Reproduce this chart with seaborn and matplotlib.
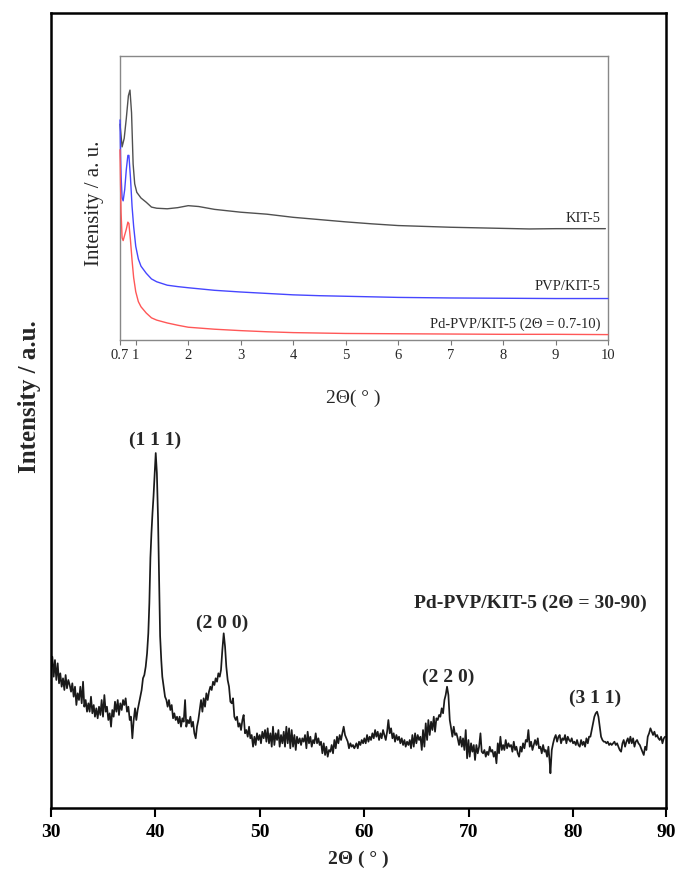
import matplotlib
matplotlib.use("Agg")
import matplotlib.pyplot as plt
import seaborn as sns
import pandas as pd

# ---------------- main XRD pattern (2Θ = 30-90) ----------------
main_x = [
    30.00, 30.13, 30.26, 30.38, 30.51, 30.64, 30.77, 30.89, 31.02, 31.15,
    31.28, 31.40, 31.53, 31.66, 31.79, 31.92, 32.04, 32.17, 32.30, 32.43,
    32.55, 32.68, 32.81, 32.94, 33.07, 33.19, 33.32, 33.45, 33.58, 33.70,
    33.83, 33.96, 34.09, 34.21, 34.34, 34.47, 34.60, 34.73, 34.85, 34.98,
    35.11, 35.24, 35.36, 35.49, 35.62, 35.75, 35.87, 36.00, 36.13, 36.26,
    36.39, 36.51, 36.64, 36.77, 36.90, 37.02, 37.15, 37.28, 37.41, 37.54,
    37.66, 37.79, 37.92, 38.05, 38.17, 38.30, 38.43, 38.56, 38.68, 38.81,
    38.94, 39.07, 39.20, 39.32,
    39.42, 39.52, 39.62, 39.72, 39.82, 39.93, 40.03, 40.14, 40.25, 40.35,
    40.45, 40.56,
    40.66, 40.79, 40.92, 41.05, 41.17, 41.30, 41.43, 41.56, 41.69, 41.81,
    41.94, 42.07, 42.20, 42.32, 42.45, 42.58, 42.71, 42.84, 42.96, 43.09,
    43.22, 43.35, 43.47, 43.60, 43.73, 43.86, 43.98, 44.11, 44.24, 44.37,
    44.50, 44.62, 44.75, 44.88, 45.01, 45.13, 45.26, 45.39, 45.52, 45.65,
    45.77, 45.90, 46.03, 46.16, 46.28, 46.41, 46.54, 46.67, 46.79, 46.92,
    47.05, 47.18, 47.31, 47.43, 47.56, 47.69, 47.82, 47.94, 48.07, 48.20,
    48.33, 48.45, 48.58, 48.71, 48.84, 48.97, 49.09, 49.22, 49.35, 49.48,
    49.60, 49.73, 49.86, 49.99, 50.11, 50.24, 50.37, 50.50, 50.63, 50.75,
    50.88, 51.01, 51.14, 51.26, 51.39, 51.52, 51.65, 51.78, 51.90, 52.03,
    52.16, 52.29, 52.41, 52.54, 52.67, 52.80, 52.92, 53.05, 53.18, 53.31,
    53.44, 53.56, 53.69, 53.82, 53.95, 54.07, 54.20, 54.33, 54.46, 54.58,
    54.71, 54.84, 54.97, 55.10, 55.22, 55.35, 55.48, 55.61, 55.73, 55.86,
    55.99, 56.12, 56.25, 56.37, 56.50, 56.63, 56.76, 56.88, 57.01, 57.14,
    57.27, 57.39, 57.52, 57.65, 57.78, 57.90, 58.03, 58.16, 58.29, 58.42,
    58.54, 58.67, 58.80, 58.92, 59.05,
    59.12, 59.25, 59.38, 59.50, 59.63, 59.76, 59.89, 60.01, 60.14, 60.27,
    60.40, 60.52, 60.65, 60.78, 60.91, 61.04, 61.16, 61.29, 61.42, 61.55,
    61.67, 61.80, 61.93, 62.06, 62.19, 62.31, 62.44, 62.57, 62.70, 62.82,
    62.95, 63.08, 63.21, 63.33, 63.46, 63.59, 63.72, 63.85, 63.97, 64.10,
    64.23, 64.36, 64.48, 64.61, 64.74, 64.87, 64.99, 65.12, 65.25, 65.38,
    65.51, 65.63, 65.76, 65.89, 66.02, 66.14, 66.27, 66.40, 66.53, 66.66,
    66.78, 66.91, 67.04, 67.17, 67.29, 67.42, 67.55, 67.68, 67.80, 67.93,
    68.06, 68.19, 68.32, 68.44, 68.57, 68.70, 68.83, 68.95, 69.08, 69.21,
    69.34, 69.46, 69.59, 69.72, 69.85, 69.98, 70.10, 70.23, 70.36, 70.49,
    70.61, 70.74, 70.87, 71.00, 71.13, 71.25, 71.38, 71.51, 71.64, 71.76,
    71.89, 72.02, 72.15, 72.27, 72.40, 72.53, 72.66, 72.79, 72.91, 73.04,
    73.17, 73.30, 73.42, 73.55, 73.68, 73.81, 73.93, 74.06, 74.19, 74.32,
    74.45, 74.57, 74.70, 74.83, 74.96, 75.08, 75.21, 75.34, 75.47, 75.60,
    75.72, 75.85, 75.98, 76.11, 76.23, 76.36, 76.49, 76.62, 76.74, 76.87,
    77.00, 77.13, 77.26, 77.38, 77.51, 77.64, 77.77, 77.83, 77.96, 78.09,
    78.21, 78.34, 78.47, 78.60, 78.72, 78.85, 78.98, 79.11, 79.23, 79.36,
    79.49, 79.62, 79.75, 79.87, 80.00, 80.13, 80.26, 80.38, 80.51, 80.64,
    80.77, 80.90, 81.02, 81.15, 81.28, 81.41, 81.53, 81.66, 81.79, 81.92,
    82.04, 82.17, 82.30, 82.43, 82.56, 82.68, 82.81, 82.94, 83.07, 83.19,
    83.32, 83.45, 83.58, 83.70, 83.83, 83.96, 84.09, 84.22, 84.34, 84.47,
    84.60, 84.73, 84.85, 84.98, 85.11, 85.24, 85.36, 85.49, 85.62, 85.75,
    85.88, 86.00, 86.13, 86.26, 86.39, 86.51, 86.64, 86.77, 86.90, 87.02,
    87.15, 87.28, 87.41, 87.54, 87.66, 87.79, 87.92, 88.05, 88.17, 88.30,
    88.43, 88.56, 88.69, 88.81,
]
main_y = [
    139.7, 151.3, 131.3, 148, 128, 144.7, 124.7, 134.7, 121.3, 129.7,
    118, 133, 119.7, 128, 123, 116.3, 124.7, 111.3, 121.3, 103,
    114.7, 108, 121.3, 104.7, 126.3, 101.3, 108, 96.3, 104.7, 96.3,
    111.3, 94.7, 103, 91.3, 99.7, 89.7, 101.3, 93, 108, 91.3,
    113, 96.3, 101.3, 88, 94.7, 81.3, 98, 91.3, 106.3, 96.3,
    108, 93, 104.7, 98, 108, 103, 109.7, 96.3, 101.3, 88,
    91.3, 69.7, 88, 99.7, 88, 98, 104.7, 111.3, 118, 129.7,
    133, 141.3, 154.7, 174.7,
    205, 250, 275, 295, 312, 335, 355, 335, 290, 230,
    172, 148,
    131.3, 121.3, 111.3, 108, 101.3, 108, 98, 103, 89.7, 94.7,
    88, 91.3, 84.7, 91.3, 81.3, 89.7, 86.3, 108, 81.3, 88,
    84.7, 91.3, 81.3, 86.3, 74.7, 69.7, 81.3, 88, 98, 108,
    96.3, 109.7, 101.3, 114.7, 108, 116.3, 121.3, 118, 126.3, 123,
    129.7, 126.3, 134.7, 131.3, 138, 158, 174.7, 161.3, 141.3, 128,
    121.3, 106.3, 104.7, 109.7, 91.3, 88, 91.3, 81.3, 84.7, 78,
    88, 93, 74.7, 78, 71.3, 81.3, 69.7, 73, 61.3, 71.3,
    63, 74.7, 68, 73, 64.7, 76.3, 69.7, 78, 66.3, 79.7,
    64.7, 74.7, 61.3, 81.3, 63, 74.7, 68, 78, 61.3, 73,
    64.7, 76.3, 61.3, 81.3, 64.7, 79.7, 59.7, 78, 61.3, 73,
    58, 71.3, 64.7, 69.7, 63, 69.7, 66.3, 73, 59.7, 76.3,
    64.7, 71.3, 61.3, 68, 64.7, 74.7, 64.7, 69.7, 63, 66.3,
    54.7, 64.7, 53, 61.3, 51.3, 58, 56.3, 63, 54.7, 68,
    59.7, 71.3, 64.7, 73, 68, 74.7, 81.3, 73, 69.7, 66.3,
    59.7, 64.7, 61.3, 63, 59.7,
    61.3, 64.7, 59.7, 66.3, 63, 68, 64.7, 69.7, 64.7, 73,
    66.3, 71.3, 68, 74.7, 69.7, 78, 71.3, 76.3, 68, 74.7,
    69.7, 78, 73, 68, 76.3, 88, 74.7, 79.7, 69.7, 74.7,
    66.3, 73, 68, 71.3, 64.7, 69.7, 63, 68, 61.3, 66.3,
    63, 68, 59.7, 73, 61.3, 74.7, 64.7, 73, 68, 71.3,
    58, 78, 61.3, 84.7, 68, 88, 73, 86.3, 78, 91.3,
    76.3, 89.7, 88, 93, 91.3, 99.7, 94.7, 108, 113, 121.3,
    113, 88, 79.7, 71.3, 81.3, 73, 74.7, 69.7, 63, 71.3,
    61.3, 69.7, 58, 78, 49.7, 68, 51.3, 64.7, 56.3, 63,
    48, 63, 54.7, 61.3, 74.7, 56.3, 54.7, 58, 51.3, 56.3,
    53, 61.3, 56.3, 58, 51.3, 56.3, 44.7, 64.7, 54.7, 71.3,
    58, 63, 58, 68, 59.7, 64.7, 61.3, 63, 56.3, 66.3,
    58, 61.3, 54.7, 51.3, 61.3, 56.3, 64.7, 59.7, 68, 66.3,
    78, 61.3, 66.3, 58, 63, 68, 63, 69.7, 59.7, 61.3,
    54.7, 63, 56.3, 58, 51.3, 61.3, 44.7, 34.7, 58, 64.7,
    69.7, 73, 66.3, 71.3, 73, 64.7, 69.7, 68, 73, 64.7,
    71.3, 68, 66.3, 69.7, 64.7, 66.3, 63, 68, 63, 61.3,
    68, 63, 66.3, 61.3, 69.7, 64.7, 71.3, 71.3, 78, 84.7,
    91.3, 94.7, 96.3, 91.3, 81.3, 71.3, 68, 66.3, 66.3, 64.7,
    66.3, 63, 64.7, 63, 64.7, 66.3, 63, 64.7, 61.3, 58,
    56.3, 64.7, 68, 61.3, 66.3, 69.7, 64.7, 71.3, 64.7, 69.7,
    61.3, 66.3, 68, 64.7, 63, 59.7, 56.3, 53, 61.3, 58,
    71.3, 74.7, 79.7, 76.3, 73, 76.3, 71.3, 73, 69.7, 68,
    71.3, 64.7, 69.7, 71.3,
]
main_xticks = [30, 40, 50, 60, 70, 80, 88.9]
main_xticklabels = ["30", "40", "50", "60", "70", "80", "90"]

peak_labels = ["(1 1 1)", "(2 0 0)", "(2 2 0)", "(3 1 1)"]
peak_label_x = [39.96, 46.35, 68.0, 82.1]
peak_label_y = [368, 185, 131, 110]
sample_label = "Pd-PVP/KIT-5 (2\u0398 = 30-90)"

# ---------------- inset: low-angle patterns (2Θ = 0.7-10) ----------------
kit_x = [0.70, 0.74, 0.78, 0.82, 0.86, 0.89, 0.92, 0.95, 0.98, 1.02,
         1.10, 1.20, 1.30, 1.40, 1.60, 1.80, 2.00, 2.20, 2.50, 3.00,
         3.50, 4.00, 4.50, 5.00, 5.50, 6.00, 6.50, 7.00, 7.50, 8.00,
         8.50, 9.00, 9.50, 9.95]
kit_y = [76, 68, 71, 78, 86, 88, 80, 62, 55, 52,
         50, 48.5, 46.8, 46.4, 46.2, 46.6, 47.3, 47.0, 46.0, 45.0,
         44.3, 43.2, 42.4, 41.6, 40.9, 40.3, 40.0, 39.7, 39.5, 39.3,
         39.1, 39.2, 39.2, 39.2]
pvp_x = [0.70, 0.71, 0.72, 0.74, 0.76, 0.79, 0.82, 0.85, 0.87, 0.90,
         0.93, 0.96, 1.00, 1.05, 1.10, 1.20, 1.30, 1.40, 1.60, 1.80,
         2.00, 2.50, 3.00, 3.50, 4.00, 4.50, 5.00, 6.00, 7.00, 8.00,
         9.00, 10.00]
pvp_y = [77.5, 65, 58, 50, 49, 53, 60, 65, 65, 57,
         47, 40, 33, 28.5, 26, 23.5, 21.5, 20.5, 19.3, 18.8,
         18.4, 17.5, 16.9, 16.4, 15.9, 15.6, 15.4, 15.0, 14.8, 14.7,
         14.6, 14.6]
pd_x = [0.70, 0.71, 0.72, 0.74, 0.76, 0.79, 0.82, 0.85, 0.87, 0.90,
        0.93, 0.96, 1.00, 1.05, 1.10, 1.20, 1.30, 1.40, 1.60, 1.80,
        2.00, 2.50, 3.00, 3.50, 4.00, 5.00, 6.00, 7.00, 8.00, 9.00,
        10.00]
pd_y = [67, 55, 45, 36, 35, 37, 39, 41.5, 41, 35,
        28, 22, 17, 13.5, 11.7, 9.5, 7.8, 7.0, 6.0, 5.2,
        4.5, 3.8, 3.3, 2.9, 2.6, 2.3, 2.2, 2.1, 2.0, 2.0,
        1.9]
inset_names = ["KIT-5", "PVP/KIT-5", "Pd-PVP/KIT-5 (2\u0398 = 0.7-10)"]
inset_colors = ["#505050", "#4646ff", "#ff5757"]
inset_label_y = [42.8, 18.8, 5.6]
inset_xticks = [0.7, 1, 2, 3, 4, 5, 6, 7, 8, 9, 10]
inset_xticklabels = ["0.7", "1", "2", "3", "4", "5", "6", "7", "8", "9", "10"]

# ---------------- drawing ----------------
sns.set_theme(style="ticks")
plt.rcParams["font.family"] = ["Liberation Serif", "DejaVu Serif"]

fig = plt.figure(figsize=(6.77, 8.72), dpi=100)
W, H = 677, 872
ax = fig.add_axes([51 / W, (H - 808) / H, (666 - 51) / W, (808 - 13) / H])

sns.lineplot(x=main_x, y=main_y, ax=ax, color="#1a1a1a", linewidth=1.25,
             estimator=None, sort=False)
ax.set_xlim(30, 88.9)
ax.set_ylim(0, 795)
ax.set_xticks(main_xticks)
ax.set_xticklabels(main_xticklabels, fontsize=14, fontweight="bold")
ax.set_yticks([])
ax.tick_params(axis="x", direction="out", length=6.5, width=1.5, pad=5,
               colors="black")
for s in ax.spines.values():
    s.set_visible(True)
    s.set_linewidth(1.8)
    s.set_color("black")
ax.set_xlabel("2\u0398 ( \u00b0 )", fontsize=14, fontweight="bold")
ax.xaxis.set_label_coords(0.50, -0.054)
ax.set_ylabel("Intensity / a.u.", fontsize=18, fontweight="bold")
ax.yaxis.set_label_coords(-0.016, 0.517)

for lab, lx, ly in zip(peak_labels, peak_label_x, peak_label_y):
    ax.text(lx, ly, lab, ha="center", va="center", fontsize=14,
            fontweight="bold")
ax.text(75.9, 205, sample_label, ha="center", va="center", fontsize=14,
        fontweight="bold")

# inset
ins = fig.add_axes([120 / W, (H - 340) / H, (608 - 120) / W, (340 - 56) / H])
inset_df = pd.concat([
    pd.DataFrame({"x": kit_x, "y": kit_y, "sample": inset_names[0]}),
    pd.DataFrame({"x": pvp_x, "y": pvp_y, "sample": inset_names[1]}),
    pd.DataFrame({"x": pd_x, "y": pd_y, "sample": inset_names[2]}),
])
sns.lineplot(data=inset_df, x="x", y="y", hue="sample", hue_order=inset_names,
             palette=inset_colors, ax=ins, linewidth=1.0, estimator=None,
             sort=False, legend=False)
for ln in ins.lines:
    ln.set_zorder(3)
    ln.set_clip_on(False)
ins.set_xlim(0.7, 10)
ins.set_ylim(0, 100)
ins.set_xticks(inset_xticks)
ins.set_xticklabels(inset_xticklabels, fontsize=10.5)
ins.set_yticks([])
ins.tick_params(axis="x", direction="out", length=3.5, width=0.8,
                color="#777777", pad=3)
for s in ins.spines.values():
    s.set_visible(True)
    s.set_linewidth(1.0)
    s.set_color("#888888")
    s.set_zorder(1)
ins.set_xlabel("2\u0398( \u00b0 )", fontsize=14)
ins.xaxis.set_label_coords(0.477, -0.176)
ins.set_ylabel("Intensity / a. u.", fontsize=15)
ins.yaxis.set_label_coords(-0.033, 0.48)
for name, ly in zip(inset_names, inset_label_y):
    ins.text(9.85, ly, name, ha="right", va="center", fontsize=10.5)

fig.savefig("out.png", dpi=100)
